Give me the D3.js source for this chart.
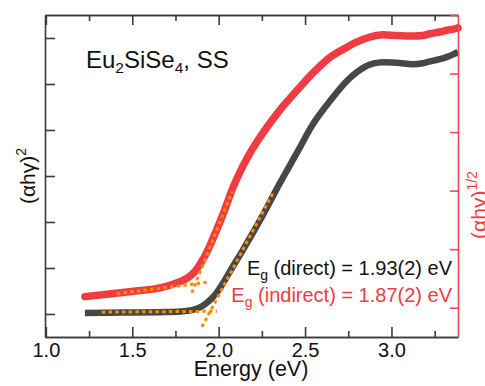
<!DOCTYPE html>
<html>
<head>
<meta charset="utf-8">
<script src="https://cdn.jsdelivr.net/npm/d3@7"></script>
<style>
  html, body { margin: 0; padding: 0; background: #fff; }
  svg { display: block; font-family: "Liberation Sans", Arial, sans-serif; }
</style>
</head>
<body>
<svg id="chart" width="485" height="386"></svg>
<script>
// ---- data ----
const energyDirect = [1.226, 1.45, 1.66, 1.78, 1.85, 1.90, 1.93, 1.96, 1.99, 2.03, 2.08, 2.14, 2.25, 2.355, 2.46, 2.546, 2.644, 2.743, 2.80, 2.865, 2.934, 3.03, 3.125, 3.18, 3.223, 3.28, 3.322, 3.36, 3.385];
const absDirect    = [0.02, 0.03, 0.04, 0.055, 0.09, 0.16, 0.24, 0.34, 0.47, 0.70, 1.02, 1.39, 2.11, 2.85, 3.55, 4.13, 4.63, 5.07, 5.26, 5.41, 5.47, 5.46, 5.43, 5.45, 5.49, 5.54, 5.59, 5.65, 5.70];

const energyIndirect = [1.226, 1.469, 1.66, 1.78, 1.82, 1.86, 1.90, 1.938, 2.019, 2.094, 2.193, 2.355, 2.45, 2.546, 2.645, 2.743, 2.80, 2.87, 2.934, 3.03, 3.125, 3.18, 3.223, 3.28, 3.322, 3.36, 3.385];
const absIndirect    = [0.19, 0.27, 0.34, 0.45, 0.51, 0.61, 0.78, 0.99, 1.55, 2.13, 2.70, 3.38, 3.70, 4.01, 4.28, 4.45, 4.54, 4.62, 4.66, 4.65, 4.64, 4.65, 4.68, 4.71, 4.74, 4.76, 4.78];

// linear fits (tangent / baseline) [x1, x2], [y1, y2]
const fitDirectBaseX = [1.324, 1.99], fitDirectBaseY = [0.04, 0.06];
const fitDirectSlopeX = [1.903, 2.314], fitDirectSlopeY = [-0.28, 2.63];
const fitIndirectBaseX = [1.411, 1.95], fitIndirectBaseY = [0.24, 0.44];
const fitIndirectSlopeX = [1.845, 2.077], fitIndirectSlopeY = [0.256, 1.98];

const xMajorTicks = [1.0, 1.5, 2.0, 2.5, 3.0];
const xMinorTicks = [1.25, 1.75, 2.25, 2.75, 3.25];
const leftTicks = [0, 1, 2, 3, 4, 5, 6];
const rightTicks = [0, 1, 2, 3, 4, 5];

const titleParts = [["Eu", 0], ["2", 1], ["SiSe", 0], ["4", 1], [", SS", 0]];
const legendDirect = [["E", 0], ["g", 1], [" (direct) = 1.93(2) eV", 0]];
const legendIndirect = [["E", 0], ["g", 1], [" (indirect) = 1.87(2) eV", 0]];

// ---- layout ----
const L = 45, R = 458, T = 15, B = 337;
const RED = "#ef3c43", DARK = "#474747", ORANGE = "#ff8c00", AXIS = "#3a3a3a", RAXIS = "#f0484e";

const svg = d3.select("#chart");
const x = d3.scaleLinear().domain([0.995, 3.385]).range([L, R]);
const yL = d3.scaleLinear().domain([-0.5, 6.5]).range([B, T]);
const yR = d3.scaleLinear().domain([-0.5, 5]).range([B, T]);

// ---- curves ----
const curve = d3.curveCatmullRom.alpha(0.5);
const lineL = d3.line().x(d => x(d[0])).y(d => yL(d[1])).curve(curve);
const lineR = d3.line().x(d => x(d[0])).y(d => yR(d[1])).curve(curve);

svg.append("path").datum(d3.zip(energyIndirect, absIndirect))
  .attr("d", lineR).attr("fill", "none").attr("stroke", RED)
  .attr("stroke-width", 7.5).attr("stroke-linecap", "round").attr("stroke-linejoin", "round");
svg.append("path").datum(d3.zip(energyDirect, absDirect))
  .attr("d", lineL).attr("fill", "none").attr("stroke", DARK)
  .attr("stroke-width", 6.5).attr("stroke-linecap", "butt").attr("stroke-linejoin", "round");

// fits
const straightL = d3.line().x(d => x(d[0])).y(d => yL(d[1]));
const straightR = d3.line().x(d => x(d[0])).y(d => yR(d[1]));
function fit(gen, xs, ys) {
  svg.append("path").datum(d3.zip(xs, ys)).attr("d", gen)
    .attr("fill", "none").attr("stroke", ORANGE).attr("stroke-width", 3)
    .attr("stroke-dasharray", "3.5,3.2");
}
fit(straightR, fitIndirectBaseX, fitIndirectBaseY);
fit(straightR, fitIndirectSlopeX, fitIndirectSlopeY);
fit(straightL, fitDirectBaseX, fitDirectBaseY);
fit(straightL, fitDirectSlopeX, fitDirectSlopeY);

// ---- axes ----
const gB = svg.append("g").attr("transform", `translate(0,${B})`)
  .call(d3.axisBottom(x).tickValues(xMajorTicks).tickSizeInner(-10).tickSizeOuter(0).tickPadding(6).tickFormat(d3.format(".1f")));
const gBm = svg.append("g").attr("transform", `translate(0,${B})`)
  .call(d3.axisBottom(x).tickValues(xMinorTicks).tickSizeInner(-6).tickSizeOuter(0).tickFormat(""));
const gT = svg.append("g").attr("transform", `translate(0,${T})`)
  .call(d3.axisTop(x).tickValues(xMajorTicks).tickSizeInner(-10).tickSizeOuter(0).tickFormat(""));
const gTm = svg.append("g").attr("transform", `translate(0,${T})`)
  .call(d3.axisTop(x).tickValues(xMinorTicks).tickSizeInner(-6).tickSizeOuter(0).tickFormat(""));
const gLft = svg.append("g").attr("transform", `translate(${L},0)`)
  .call(d3.axisLeft(yL).tickValues(leftTicks).tickSizeInner(-10).tickSizeOuter(0).tickFormat(""));
const gRt = svg.append("g").attr("transform", `translate(${R},0)`)
  .call(d3.axisRight(yR).tickValues(rightTicks).tickSizeInner(-8).tickSizeOuter(0).tickFormat(""));

[gB, gBm, gT, gTm, gLft].forEach(g => {
  g.select(".domain").attr("stroke", AXIS).attr("stroke-width", 1.6);
  g.selectAll(".tick line").attr("stroke", AXIS).attr("stroke-width", 1.6);
});
gRt.select(".domain").attr("stroke", RAXIS).attr("stroke-width", 1.6);
gRt.selectAll(".tick line").attr("stroke", RAXIS).attr("stroke-width", 1.6);
gB.selectAll(".tick text").attr("font-size", 20).attr("fill", "#111")
  .attr("font-family", "Liberation Sans, Arial, sans-serif");

// ---- texts ----
function richText(parts, xPos, yPos, size, subSize, color, anchor) {
  const t = svg.append("text").attr("x", xPos).attr("y", yPos)
    .attr("font-size", size).attr("fill", color).attr("text-anchor", anchor || "start");
  parts.forEach(([s, sub], i) => {
    const ts = t.append("tspan").text(s);
    if (sub) ts.attr("font-size", subSize).attr("dy", 5);
    else if (i > 0 && parts[i - 1][1]) ts.attr("dy", -5);
  });
  return t;
}
richText(titleParts, 86, 68, 24, 15.5, "#111");
richText(legendDirect, 452, 275, 20, 14, "#111", "end");
richText(legendIndirect, 452, 302, 20, 14, RED, "end");

svg.append("text").attr("x", 251).attr("y", 376).attr("text-anchor", "middle")
  .attr("font-size", 21.5).attr("fill", "#111").text("Energy (eV)");

// left y label
const yl = svg.append("text").attr("transform", "translate(35,176) rotate(-90)")
  .attr("text-anchor", "middle").attr("font-size", 21).attr("fill", "#111");
yl.append("tspan").text("(\u03B1h\u03B3)");
yl.append("tspan").text("2").attr("font-size", 14).attr("dy", -9);

// right y label (clipped at the page edge as in the reference)
const yr = svg.append("text").attr("transform", "translate(486,205) rotate(-90)")
  .attr("text-anchor", "middle").attr("font-size", 21).attr("fill", RED);
yr.append("tspan").text("(\u03B1h\u03B3)");
yr.append("tspan").text("1/2").attr("font-size", 14).attr("dy", -9);
</script>
</body>
</html>
